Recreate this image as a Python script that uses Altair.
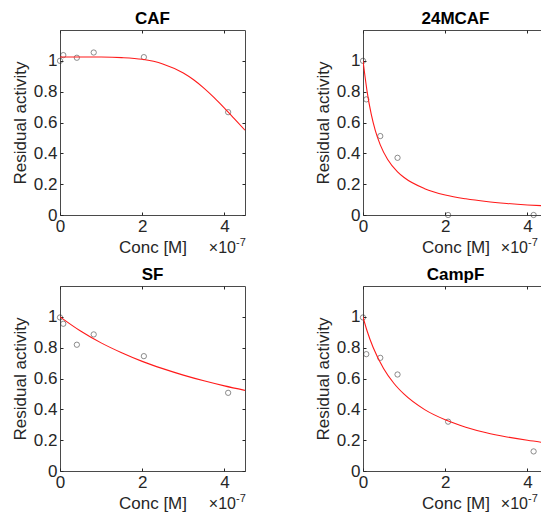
import altair as alt
import pandas as pd

FONT = "Liberation Sans"
AX = "#262626"
BOX = "#4a4a4a"

# ---- data (concentration in units of 1e-7 M) ----
titles = ["CAF", "24MCAF", "SF", "CampF"]

caf_x = [0, 0.08, 0.41, 0.82, 2.04, 4.09]
caf_y = [1.0, 1.037, 1.02, 1.054, 1.024, 0.667]
mcaf_x = [0, 0.08, 0.42, 0.84, 2.07, 4.15]
mcaf_y = [1.0, 0.75, 0.512, 0.371, 0.0, 0.0]
sf_x = [0, 0.08, 0.41, 0.82, 2.04, 4.09]
sf_y = [0.996, 0.955, 0.819, 0.886, 0.745, 0.507]
campf_x = [0, 0.08, 0.42, 0.84, 2.07, 4.15]
campf_y = [0.996, 0.758, 0.734, 0.626, 0.32, 0.127]

# fitted curves
caf_fx = [0, 0.5, 1, 1.5, 2, 2.5, 3, 3.25, 3.5, 3.75, 4, 4.25, 4.5]
caf_fy = [1.025, 1.025, 1.0245, 1.021, 1.010, 0.980, 0.921, 0.877, 0.823, 0.761, 0.693, 0.622, 0.550]
mcaf_fx = [0, 0.05, 0.1, 0.2, 0.3, 0.42, 0.6, 0.84, 1.0, 1.5, 2, 2.5, 3, 3.5, 4, 4.5]
mcaf_fy = [1.0, 0.897, 0.80, 0.654, 0.547, 0.455, 0.360, 0.28, 0.243, 0.171, 0.130, 0.105, 0.0875, 0.075, 0.0653, 0.058]
sf_fx = [0, 0.5, 1, 1.5, 2, 2.5, 3, 3.5, 4, 4.5]
sf_fy = [1.0, 0.908, 0.831, 0.767, 0.711, 0.664, 0.622, 0.585, 0.552, 0.523]
campf_fx = [0, 0.1, 0.25, 0.5, 0.75, 1, 1.5, 2, 2.5, 3, 3.5, 4, 4.5]
campf_fy = [1.0, 0.908, 0.799, 0.665, 0.569, 0.498, 0.398, 0.332, 0.284, 0.248, 0.221, 0.199, 0.181]

x_ticks = [0, 2, 4]
y_ticks = [0, 0.2, 0.4, 0.6, 0.8, 1.0]
x_domain = [0, 4.5]
y_domain = [0, 1.2]

W = 185
H = 185
FS = 17


def panel(title, px, py, fx, fy, exp_shift=0):
    pts = pd.DataFrame({"x": px, "y": py})
    fit = pd.DataFrame({"x": fx, "y": fy})
    xs = alt.Scale(domain=x_domain, nice=False, zero=False)
    ys = alt.Scale(domain=y_domain, nice=False)

    points = alt.Chart(pts).mark_point(
        shape="circle", size=28, filled=False, color="#333333", strokeWidth=0.8
    ).encode(
        x=alt.X("x:Q", scale=xs, axis=alt.Axis(
            values=x_ticks, title="Conc [M]", ticks=False, domain=False,
            labelPadding=3, titlePadding=5, format="~g",
            labelFlush=False, labelOverlap=False)),
        y=alt.Y("y:Q", scale=ys, axis=alt.Axis(
            values=y_ticks, title="Residual activity", ticks=False, domain=False,
            labelPadding=3, titlePadding=4, format="~g",
            labelFlush=False, labelOverlap=False)),
    )

    line = alt.Chart(fit).mark_line(
        color="#ff1a1a", strokeWidth=1.1, interpolate="monotone", clip=True
    ).encode(
        x=alt.X("x:Q", scale=xs, axis=alt.Axis(
            orient="top", offset=-H, values=x_ticks, labels=False, title=None,
            ticks=True, tickSize=3, domain=False)),
        y=alt.Y("y:Q", scale=ys, axis=alt.Axis(
            orient="right", offset=-W, values=y_ticks, labels=False, title=None,
            ticks=True, tickSize=3, domain=False)),
    )

    ghost = alt.Chart(pts).mark_point(opacity=0).encode(
        x=alt.X("x:Q", scale=xs, axis=alt.Axis(
            orient="bottom", offset=-H, values=x_ticks, labels=False, title=None,
            ticks=True, tickSize=3, domain=False)),
        y=alt.Y("y:Q", scale=ys, axis=alt.Axis(
            orient="left", offset=-W, values=y_ticks, labels=False, title=None,
            ticks=True, tickSize=3, domain=False)),
    )

    one = pd.DataFrame({"t": ["×10"], "e": ["-7"]})
    mult = alt.Chart(one).mark_text(
        align="right", baseline="alphabetic", fontSize=16, font=FONT, color=AX
    ).encode(text="t:N", x=alt.value(W - 9 - exp_shift), y=alt.value(H + 38))
    expo = alt.Chart(one).mark_text(
        align="left", baseline="alphabetic", fontSize=11, font=FONT, color=AX
    ).encode(text="e:N", x=alt.value(W - 9 - exp_shift), y=alt.value(H + 31))

    return alt.layer(points, line, ghost, mult, expo).resolve_axis(
        x="independent", y="independent"
    ).properties(
        width=W, height=H,
        title=alt.TitleParams(title, fontSize=FS, fontWeight="bold", font=FONT,
                              color="#000000", offset=2),
    )


p1 = panel(titles[0], caf_x, caf_y, caf_fx, caf_fy)
p2 = panel(titles[1], mcaf_x, mcaf_y, mcaf_fx, mcaf_fy, exp_shift=11)
p3 = panel(titles[2], sf_x, sf_y, sf_fx, sf_fy)
p4 = panel(titles[3], campf_x, campf_y, campf_fx, campf_fy, exp_shift=11)

# fixed-size canvas so the page (with its 8px margin) fits 549 x 521
SVG_W = 533
SVG_H = 505
PAD_L = 52
PAD_T = 22

chart = alt.concat(
    p1, p2, p3, p4, columns=2,
    spacing=alt.RowColnumber(row=71, column=118), bounds="flush"
).properties(
    autosize=alt.AutoSizeParams(type="none"),
    padding={"left": PAD_L, "top": PAD_T, "right": SVG_W - PAD_L, "bottom": SVG_H - PAD_T}
).configure_view(
    stroke=BOX, strokeWidth=1
).configure_axis(
    grid=False, labelFont=FONT, titleFont=FONT, labelFontSize=FS, titleFontSize=FS,
    labelColor=AX, titleColor=AX, tickColor=AX, tickWidth=1,
    titleFontWeight="normal"
)

chart.save("out.html", embed_options={"renderer": "svg", "actions": False})
